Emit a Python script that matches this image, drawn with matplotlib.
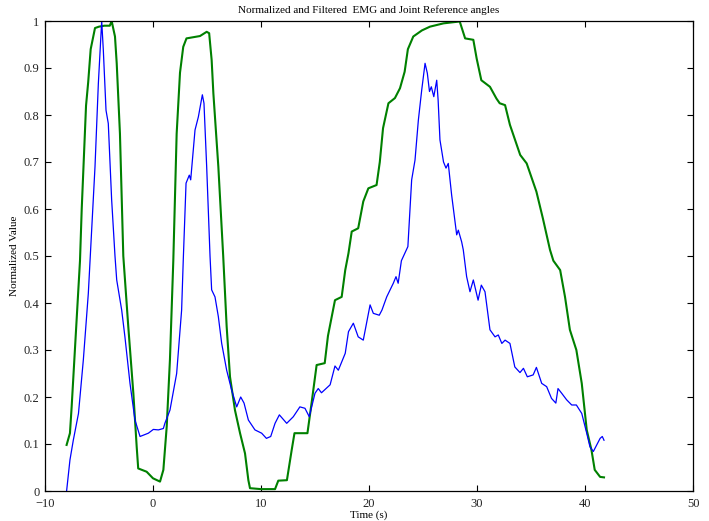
import matplotlib
matplotlib.use("Agg")
import matplotlib.pyplot as plt

plt.rcParams['font.family'] = ['Liberation Serif', 'DejaVu Serif']

title = "Normalized and Filtered  EMG and Joint Reference angles"
xlabel = "Time (s)"
ylabel = "Normalized Value"
xticks = [-10, 0, 10, 20, 30, 40, 50]
yticks = [0, 0.1, 0.2, 0.3, 0.4, 0.5, 0.6, 0.7, 0.8, 0.9, 1]
ytick_labels = ["0", "0.1", "0.2", "0.3", "0.4", "0.5", "0.6", "0.7", "0.8", "0.9", "1"]

# Joint reference angle (green)
joint_t = [-8.0, -7.69, -7.53, -6.76, -6.6, -6.2, -6.0, -5.77, -5.37, -5.0, -4.5, -4.0, -3.83,
           -3.52, -3.36, -3.06, -2.75, -2.29, -1.82, -1.51, -1.37, -0.59, 0.0, 0.65, 0.96,
           1.27, 1.57, 1.88, 2.19, 2.5, 2.8, 3.1, 4.35, 4.97, 5.2, 5.43, 5.59, 6.05, 6.5,
           6.82, 7.13, 7.59, 8.06, 8.52, 8.83, 8.98, 10.0, 11.3, 11.6, 12.4, 12.84, 13.1,
           14.3, 14.7, 15.15, 15.9, 16.2, 16.85, 17.47, 17.8, 18.1, 18.4, 19.0, 19.47,
           19.94, 20.7, 21.0, 21.3, 21.8, 22.4, 22.87, 23.3, 23.6, 24.1, 24.9, 25.65, 26.9,
           28.4, 28.9, 29.66, 29.97, 30.4, 31.2, 31.8, 32.1, 32.6, 33.05, 34.0, 34.6, 35.5,
           36.1, 36.76, 37.07, 37.7, 38.15, 38.6, 39.2, 39.7, 40.16, 40.6, 40.9, 41.4, 41.76]
joint_v = [0.098, 0.123, 0.18, 0.49, 0.60, 0.82, 0.87, 0.94, 0.985, 0.988, 0.99, 0.99, 1.0,
           0.967, 0.91, 0.76, 0.50, 0.35, 0.208, 0.094, 0.048, 0.041, 0.027, 0.020, 0.045,
           0.137, 0.28, 0.49, 0.76, 0.89, 0.945, 0.963, 0.968, 0.977, 0.974, 0.917, 0.846,
           0.69, 0.50, 0.35, 0.243, 0.172, 0.123, 0.08, 0.023, 0.006, 0.004, 0.004, 0.022,
           0.023, 0.087, 0.123, 0.123, 0.19, 0.268, 0.272, 0.33, 0.406, 0.413, 0.47, 0.506,
           0.552, 0.559, 0.616, 0.644, 0.651, 0.70, 0.772, 0.825, 0.836, 0.857, 0.892, 0.94,
           0.967, 0.98, 0.988, 0.995, 0.999, 0.963, 0.96, 0.92, 0.874, 0.86, 0.835, 0.825,
           0.821, 0.779, 0.715, 0.697, 0.637, 0.58, 0.513, 0.49, 0.47, 0.413, 0.343, 0.30,
           0.229, 0.13, 0.087, 0.045, 0.03, 0.029]

# Normalized, filtered EMG (blue)
emg_t = [-8.0, -7.69, -7.38, -6.9, -6.45, -5.99, -5.83, -5.37, -5.06, -4.75, -4.6, -4.35,
         -4.14, -3.83, -3.52, -3.36, -2.9, -2.6, -2.13, -1.67, -1.2, -0.43, 0.03, 0.5, 0.96,
         1.1, 1.57, 2.19, 2.65, 2.8, 3.06, 3.36, 3.49, 3.89, 4.2, 4.57, 4.72, 4.97, 5.28,
         5.43, 5.74, 6.05, 6.36, 6.82, 7.28, 7.75, 8.12, 8.43, 8.83, 9.44, 10.06, 10.5,
         10.9, 11.3, 11.7, 12.38, 12.99, 13.6, 14.07, 14.47, 15.0, 15.3, 15.6, 16.4, 16.85,
         17.16, 17.8, 18.1, 18.55, 19.0, 19.47, 20.1, 20.4, 20.95, 21.2, 21.64, 22.25, 22.5,
         22.7, 23.0, 23.6, 23.95, 24.26, 24.57, 24.88, 25.19, 25.4, 25.6, 25.77, 26.0, 26.27,
         26.4, 26.57, 26.9, 27.13, 27.34, 27.65, 27.96, 28.12, 28.27, 28.58, 28.73, 29.04,
         29.35, 29.66, 30.1, 30.4, 30.74, 31.2, 31.67, 31.97, 32.3, 32.6, 33.05, 33.5, 33.98,
         34.3, 34.66, 35.2, 35.5, 35.99, 36.45, 36.9, 37.3, 37.5, 37.84, 38.3, 38.77, 39.2,
         39.7, 40.16, 40.46, 40.77, 41.4, 41.6, 41.76]
emg_v = [0.0, 0.066, 0.108, 0.165, 0.279, 0.42, 0.49, 0.69, 0.867, 1.0, 0.938, 0.81, 0.782,
         0.62, 0.50, 0.449, 0.385, 0.328, 0.229, 0.151, 0.116, 0.123, 0.131, 0.13, 0.133,
         0.144, 0.172, 0.25, 0.385, 0.49, 0.655, 0.672, 0.662, 0.768, 0.796, 0.843, 0.825,
         0.69, 0.50, 0.428, 0.413, 0.371, 0.314, 0.257, 0.215, 0.179, 0.2, 0.187, 0.151,
         0.13, 0.123, 0.112, 0.116, 0.144, 0.162, 0.144, 0.158, 0.179, 0.176, 0.158, 0.208,
         0.218, 0.209, 0.226, 0.266, 0.257, 0.293, 0.339, 0.357, 0.328, 0.321, 0.396, 0.378,
         0.374, 0.385, 0.413, 0.442, 0.456, 0.442, 0.49, 0.52, 0.662, 0.704, 0.789, 0.853,
         0.91, 0.889, 0.85, 0.86, 0.839, 0.874, 0.832, 0.747, 0.70, 0.687, 0.697, 0.63, 0.573,
         0.545, 0.555, 0.53, 0.513, 0.456, 0.424, 0.449, 0.406, 0.438, 0.424, 0.343, 0.328,
         0.332, 0.314, 0.321, 0.314, 0.264, 0.252, 0.261, 0.243, 0.247, 0.263, 0.229, 0.222,
         0.197, 0.187, 0.218, 0.208, 0.194, 0.183, 0.183, 0.165, 0.123, 0.094, 0.084, 0.112,
         0.116, 0.108]

fig = plt.figure(figsize=(7.09, 5.21), dpi=100)
ax = fig.add_axes([45/709, 30/521, 648/709, 470/521])

ax.plot(joint_t, joint_v, color='#008000', linewidth=1.5)
ax.plot(emg_t, emg_v, color='#0000ff', linewidth=0.9)

ax.set_xlim(-10, 50)
ax.set_ylim(0, 1)
ax.set_xticks(xticks)
ax.set_yticks(yticks)
ax.set_yticklabels(ytick_labels)
ax.tick_params(direction='in', top=True, right=True, length=4, width=0.8,
               labelsize=9, labelcolor='#222222')
ax.tick_params(axis='x', pad=5)
ax.tick_params(axis='y', pad=4)
for s in ax.spines.values():
    s.set_linewidth(0.9)
    s.set_color('black')

ax.set_title(title, fontsize=8, pad=6)
ax.set_xlabel(xlabel, fontsize=8, labelpad=0)
ax.set_ylabel(ylabel, fontsize=8, labelpad=3)

fig.savefig("out.png", dpi=100)
